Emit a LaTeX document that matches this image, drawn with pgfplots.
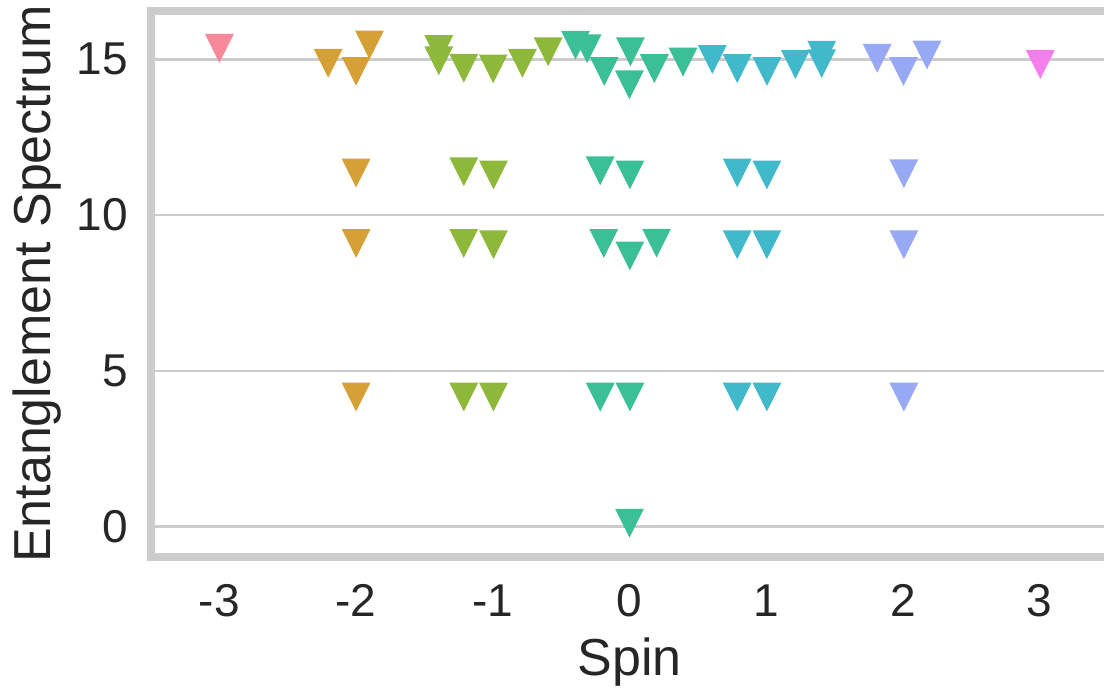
\documentclass[border=0pt]{standalone}
\usepackage{pgfplots}
\pgfplotsset{compat=1.18}
\usepackage{fontspec}
\setmainfont{Liberation Sans}
\definecolor{gridgray}{HTML}{CCCCCC}
\definecolor{cA}{HTML}{F7899B}
\definecolor{cB}{HTML}{D5A036}
\definecolor{cC}{HTML}{8DB83A}
\definecolor{cD}{HTML}{3BBF96}
\definecolor{cE}{HTML}{41B9CB}
\definecolor{cF}{HTML}{97A8F4}
\definecolor{cG}{HTML}{F57DEC}
\pgfdeclareplotmark{tridown}{%
  \pgfpathmoveto{\pgfqpoint{0pt}{-\pgfplotmarksize}}%
  \pgfpathlineto{\pgfqpoint{-\pgfplotmarksize}{\pgfplotmarksize}}%
  \pgfpathlineto{\pgfqpoint{\pgfplotmarksize}{\pgfplotmarksize}}%
  \pgfpathclose\pgfusepathqfill}
\begin{document}
\begin{tikzpicture}
\begin{axis}[
  name=ax,
  at={(0,0)}, anchor=south west,
  scale only axis,
  width=478.5pt, height=273pt,
  xmin=-3.5, xmax=3.5,
  ymin=-0.97, ymax=16.55,
  xtick={-3,-2,-1,0,1,2,3},
  xticklabels={-3,-2,-1,0,1,2,3},
  ytick={0,5,10,15},
  yticklabels={0,5,10,15},
  major tick length=0pt,
  ymajorgrids,
  major grid style={draw=gridgray, line width=1.3pt},
  axis line style={draw=gridgray, line width=4.3pt, line join=miter},
  ticklabel style={font=\fontsize{23}{27}\selectfont, text=black!85, inner sep=0pt},
  xticklabel style={anchor=north, yshift=-13.5pt},
  yticklabel style={anchor=east, xshift=-11.5pt},
  clip=false,
  every axis plot/.append style={only marks, mark=tridown, mark size=7.2pt},
]
\addplot[cA, mark options={fill=cA}] coordinates {(-3.0,15.35)};
\addplot[cB, mark options={fill=cB}] coordinates {
(-2.204,14.87) (-2.0,14.61) (-1.902,15.46) (-2.0,11.35) (-2.0,9.09) (-2.0,4.16)};
\addplot[cC, mark options={fill=cC}] coordinates {
(-1.395,15.31) (-1.395,14.95) (-1.212,14.71) (-0.997,14.69) (-0.783,14.87) (-0.595,15.24)
(-1.212,11.39) (-0.995,11.29) (-1.212,9.09) (-0.995,9.05) (-1.212,4.16) (-0.995,4.16)};
\addplot[cD, mark options={fill=cD}] coordinates {
(-0.395,15.45) (-0.31,15.34) (-0.185,14.61) (0.007,15.24) (0.0,14.18) (0.182,14.70) (0.392,14.91)
(-0.214,11.42) (0.003,11.29) (-0.188,9.09) (0.003,8.69) (0.198,9.10) (-0.214,4.16) (0.003,4.16) (0.0,0.11)};
\addplot[cE, mark options={fill=cE}] coordinates {
(0.606,14.99) (0.788,14.70) (1.006,14.61) (1.214,14.83) (1.406,15.13) (1.406,14.86)
(0.788,11.35) (1.005,11.29) (0.788,9.05) (1.005,9.05) (0.788,4.16) (1.005,4.16)};
\addplot[cF, mark options={fill=cF}] coordinates {
(1.812,15.03) (2.004,14.61) (2.176,15.14) (2.007,11.33) (2.007,9.05) (2.007,4.16)};
\addplot[cG, mark options={fill=cG}] coordinates {(3.005,14.83)};
\end{axis}
\node[rotate=90, anchor=south, inner sep=0pt, text=black!85, font=\fontsize{26}{30}\selectfont]
  at ([xshift=-44.5pt]ax.west) {Entanglement Spectrum};
\node[anchor=north, inner sep=0pt, text=black!85, font=\fontsize{26}{30}\selectfont]
  at ([yshift=-40pt]ax.south) {Spin};
\pgfresetboundingbox
\path[use as bounding box] (-75.5pt,-67pt) rectangle (476.5pt,278.5pt);
\end{tikzpicture}
\end{document}
